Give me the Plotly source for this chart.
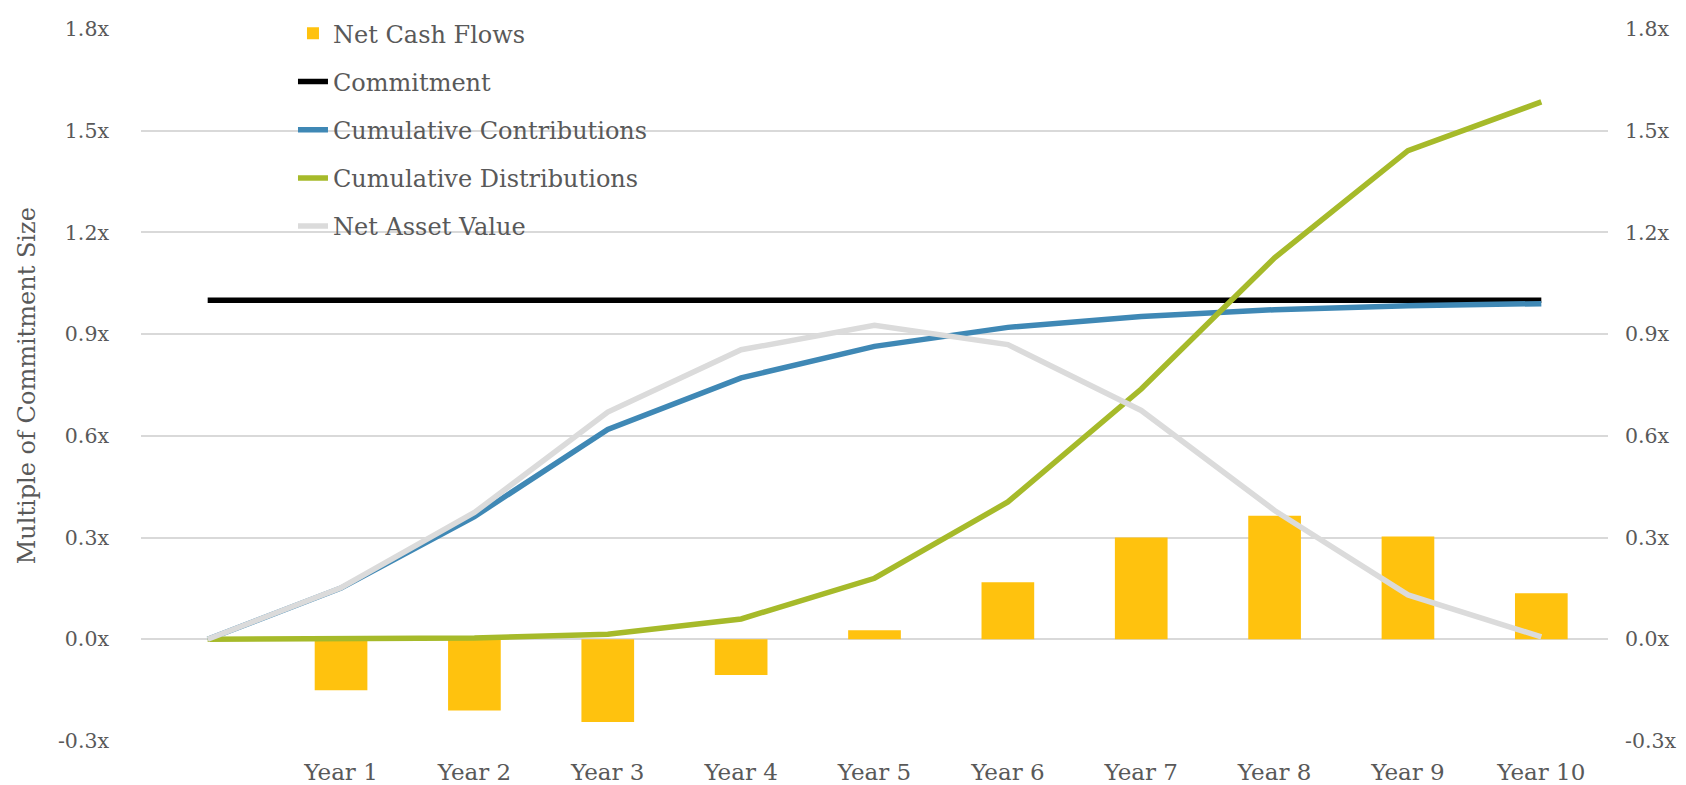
import plotly.graph_objects as go

# ---- data ----
years = ["Year 0", "Year 1", "Year 2", "Year 3", "Year 4", "Year 5",
         "Year 6", "Year 7", "Year 8", "Year 9", "Year 10"]
tick_labels = ["", "Year 1", "Year 2", "Year 3", "Year 4", "Year 5",
               "Year 6", "Year 7", "Year 8", "Year 9", "Year 10"]
net_cash_flows = [None, -0.15, -0.21, -0.244, -0.105, 0.027, 0.168, 0.30, 0.364, 0.303, 0.136]
commitment = [1.0, 1.0, 1.0, 1.0, 1.0, 1.0, 1.0, 1.0, 1.0, 1.0, 1.0]
contributions = [0.0, 0.151, 0.362, 0.619, 0.771, 0.864, 0.92, 0.952, 0.972, 0.984, 0.99]
distributions = [0.0, 0.0, 0.004, 0.015, 0.06, 0.18, 0.405, 0.738, 1.125, 1.441, 1.585]
nav = [0.0, 0.152, 0.374, 0.67, 0.854, 0.926, 0.869, 0.675, 0.38, 0.131, 0.007]

y_tickvals = [-0.3, 0.0, 0.3, 0.6, 0.9, 1.2, 1.5, 1.8]
y_ticktext = ["-0.3x", "0.0x", "0.3x", "0.6x", "0.9x", "1.2x", "1.5x", "1.8x"]

FONT = "DejaVu Serif"
TXT = "#595959"

fig = go.Figure()
fig.add_trace(go.Bar(x=years, y=net_cash_flows, name="Net Cash Flows",
                     marker=dict(color="#FFC20E", line=dict(width=0)),
                     width=0.395, legendgroup="a"))
fig.add_trace(go.Scatter(x=years, y=commitment, name="Commitment", mode="lines",
                         line=dict(color="#000000", width=5.5), legendgroup="b"))
fig.add_trace(go.Scatter(x=years, y=contributions, name="Cumulative Contributions", mode="lines",
                         line=dict(color="#3F88B5", width=5.5), legendgroup="c"))
fig.add_trace(go.Scatter(x=years, y=distributions, name="Cumulative Distributions", mode="lines",
                         line=dict(color="#A6BA2A", width=5.5), legendgroup="d"))
fig.add_trace(go.Scatter(x=years, y=nav, name="Net Asset Value", mode="lines",
                         line=dict(color="#DBDBDB", width=5.5), legendgroup="e"))
# invisible trace so the secondary (right) axis is drawn
fig.add_trace(go.Scatter(x=years, y=commitment, yaxis="y2", mode="lines",
                         line=dict(width=0), opacity=0, showlegend=False, hoverinfo="skip"))

fig.update_layout(
    width=1686, height=785,
    paper_bgcolor="white", plot_bgcolor="white",
    margin=dict(l=133, r=86, t=21, b=52, autoexpand=False),
    font=dict(family=FONT, size=22, color=TXT),
    showlegend=True,
    legend=dict(x=0.1036, y=1.025, xanchor="left", yanchor="top",
                bgcolor="rgba(0,0,0,0)", traceorder="grouped",
                tracegroupgap=14, font=dict(family=FONT, size=24, color=TXT)),
    xaxis=dict(type="category", categoryorder="array", categoryarray=years,
               tickmode="array", tickvals=years, ticktext=tick_labels,
               range=[-0.5, 10.5], showgrid=False, zeroline=False, showline=False,
               ticks="", ticklabelstandoff=15, automargin=False,
               tickfont=dict(family=FONT, size=23, color=TXT)),
    yaxis=dict(range=[-0.3, 1.8], tickmode="array", tickvals=y_tickvals, ticktext=y_ticktext,
               showgrid=True, gridcolor="#D9D9D9", gridwidth=1.5,
               zeroline=False, showline=False, ticks="", ticklabelstandoff=31,
               automargin=False, tickfont=dict(family=FONT, size=20.5, color=TXT)),
    yaxis2=dict(range=[-0.3, 1.8], overlaying="y", side="right",
                tickmode="array", tickvals=y_tickvals, ticktext=y_ticktext,
                showgrid=False, zeroline=False, showline=False, ticks="",
                ticklabelstandoff=16, automargin=False,
                tickfont=dict(family=FONT, size=20.5, color=TXT)),
    annotations=[dict(text="Multiple of Commitment Size", textangle=-90,
                      xref="paper", yref="paper", x=-0.078, y=0.499,
                      xanchor="center", yanchor="middle", showarrow=False,
                      font=dict(family=FONT, size=24, color=TXT))],
)

fig.write_html("out.html")
